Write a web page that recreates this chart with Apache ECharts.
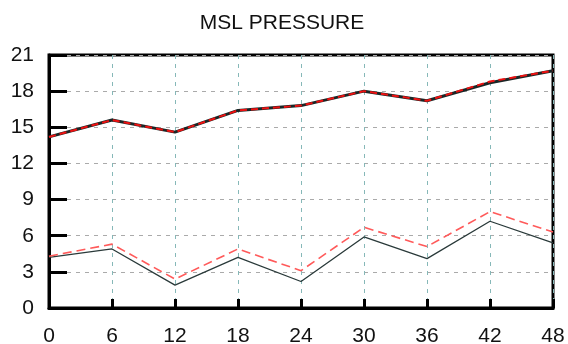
<!DOCTYPE html>
<html>
<head>
<meta charset="utf-8">
<script src="https://cdn.jsdelivr.net/npm/echarts@6/dist/echarts.min.js"></script>
<style>
  html, body { margin: 0; padding: 0; background: #fff; }
  #chart { width: 568px; height: 344px; }
</style>
</head>
<body>
<div id="chart"></div>
<script>
// Forecast hours along the x axis
const hours = [0, 6, 12, 18, 24, 30, 36, 42, 48];
const xTicks = [0, 6, 12, 18, 24, 30, 36, 42, 48];
const yTicks = [0, 3, 6, 9, 12, 15, 18, 21];

// Upper pair of curves
const upperSolid  = [14.2, 15.6, 14.6, 16.4, 16.8, 18.0, 17.2, 18.7, 19.7];
const upperDashed = [14.2, 15.6, 14.6, 16.4, 16.8, 18.0, 17.2, 18.8, 19.7];

// Lower pair of curves
const lowerSolid  = [4.2, 4.9, 1.9, 4.2, 2.2, 5.9, 4.1, 7.2, 5.4];
const lowerDashed = [4.3, 5.3, 2.4, 4.9, 3.1, 6.7, 5.1, 8.0, 6.3];

const pairs = v => hours.map((h, i) => [h, v[i]]);

const chart = echarts.init(document.getElementById('chart'));
const labelFont = { fontFamily: 'Liberation Sans, Arial, sans-serif', fontSize: 21, color: '#111' };

chart.setOption({
  animation: false,
  backgroundColor: '#fff',
  title: {
    text: 'MSL PRESSURE',
    left: 277, top: 8,
    textAlign: 'center',
    textStyle: { fontFamily: 'Liberation Sans, Arial, sans-serif', fontSize: 21, fontWeight: 'normal', color: '#111' }
  },
  grid: {
    left: 49, right: 15, top: 55, bottom: 36,
    outerBoundsMode: 'none',
    containLabel: false,
    show: true, borderColor: '#000', borderWidth: 3, backgroundColor: 'transparent'
  },
  xAxis: {
    type: 'value', min: xTicks[0], max: xTicks[xTicks.length - 1], interval: 6,
    axisLine: { show: true, lineStyle: { color: '#000', width: 3 } },
    axisTick: { show: true, inside: true, length: 9, lineStyle: { color: '#000', width: 3 } },
    axisLabel: Object.assign({ margin: 18 }, labelFont),
    splitLine: { show: true, lineStyle: { color: '#86b8b8', width: 1, type: [4, 5] } }
  },
  yAxis: {
    type: 'value', min: yTicks[0], max: yTicks[yTicks.length - 1], interval: 3,
    axisLine: { show: true, lineStyle: { color: '#000', width: 3 } },
    axisTick: { show: true, inside: true, length: 18, lineStyle: { color: '#000', width: 3 } },
    axisLabel: Object.assign({ margin: 15 }, labelFont),
    splitLine: { show: true, lineStyle: { color: '#aaaaaa', width: 1, type: [4, 5] } }
  },
  series: [
    {
      type: 'line', data: pairs(upperSolid), symbol: 'none',
      lineStyle: { color: '#1a2626', width: 3 }, z: 3
    },
    {
      type: 'line', data: pairs(upperDashed), symbol: 'none',
      lineStyle: { color: '#ee1111', width: 2, type: [7, 4] }, z: 4
    },
    {
      type: 'line', data: pairs(lowerSolid), symbol: 'none',
      lineStyle: { color: '#2a3a3a', width: 1.3 }, z: 3
    },
    {
      type: 'line', data: pairs(lowerDashed), symbol: 'none',
      lineStyle: { color: '#ff5a5a', width: 1.6, type: [9, 5] }, z: 4
    }
  ]
});
</script>
</body>
</html>
